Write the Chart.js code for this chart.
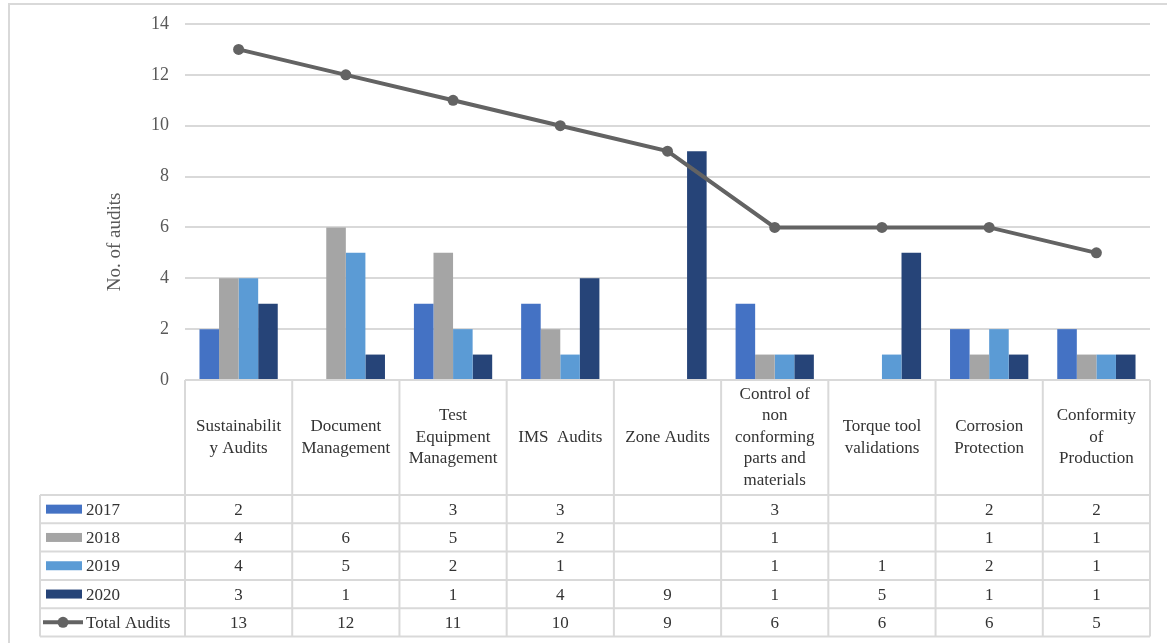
<!DOCTYPE html>
<html>
<head>
<meta charset="utf-8">
<title>Audits per area, 2017–2020</title>
<script src="https://cdn.jsdelivr.net/npm/chart.js@4/dist/chart.umd.min.js"></script>
<style>
  html, body { margin: 0; padding: 0; background: #ffffff; }
  #wrap { position: relative; width: 1167px; height: 643px; }
</style>
</head>
<body>
<div id="wrap"><canvas id="chart"></canvas></div>
<script>
// Audit areas (header lines of the data table)
const categories = [
  ['Sustainabilit', 'y Audits'],
  ['Document', 'Management'],
  ['Test', 'Equipment', 'Management'],
  ['IMS  Audits'],
  ['Zone Audits'],
  ['Control of', 'non', 'conforming', 'parts and', 'materials'],
  ['Torque tool', 'validations'],
  ['Corrosion', 'Protection'],
  ['Conformity', 'of', 'Production']
];

// Audits per year (null = no audit that year)
const audits2017 = [2, null, 3, 3, null, 3, null, 2, 2];
const audits2018 = [4, 6, 5, 2, null, 1, null, 1, 1];
const audits2019 = [4, 5, 2, 1, null, 1, 1, 2, 1];
const audits2020 = [3, 1, 1, 4, 9, 1, 5, 1, 1];
const totalAudits = [13, 12, 11, 10, 9, 6, 6, 6, 5];

const yTicks = [0, 2, 4, 6, 8, 10, 12, 14];
const yTitle = 'No. of audits';

const FONT = '"Liberation Serif", "Times New Roman", serif';
const GRID = '#d9d9d9';
const TEXT = '#333333';
const AXIS_TEXT = '#595959';

const series = [
  { label: '2017', data: audits2017, color: '#4472c4', kind: 'bar' },
  { label: '2018', data: audits2018, color: '#a5a5a5', kind: 'bar' },
  { label: '2019', data: audits2019, color: '#5b9bd5', kind: 'bar' },
  { label: '2020', data: audits2020, color: '#264478', kind: 'bar' },
  { label: 'Total Audits', data: totalAudits, color: '#636363', kind: 'line' }
];

// Frame, axis title, data table and legend keys below the plot
const dataTable = {
  id: 'dataTable',
  beforeDraw(chart) {
    const ctx = chart.ctx;
    ctx.save();
    ctx.strokeStyle = GRID;
    ctx.lineWidth = 2;
    ctx.strokeRect(9, 4, 3000, 3000);
    ctx.restore();
  },
  afterDraw(chart) {
    const ctx = chart.ctx;
    const area = chart.chartArea;
    const x = chart.scales.x;
    const n = categories.length;
    const colW = (area.right - area.left) / n;
    const headTop = area.bottom;
    const headBottom = headTop + 115;
    const rowH = 28.3;
    const rowsBottom = headBottom + rowH * series.length;
    const legendLeft = 40;

    ctx.save();

    // y axis title
    ctx.fillStyle = AXIS_TEXT;
    ctx.font = '19px ' + FONT;
    ctx.textAlign = 'center';
    ctx.textBaseline = 'middle';
    ctx.translate(115, 242);
    ctx.rotate(-Math.PI / 2);
    ctx.fillText(yTitle, 0, 0);
    ctx.setTransform(1, 0, 0, 1, 0, 0);

    ctx.strokeStyle = GRID;
    ctx.lineWidth = 2;

    // horizontal rules
    ctx.beginPath();
    ctx.moveTo(area.left, headTop); ctx.lineTo(area.right, headTop);
    for (let r = 0; r <= series.length; r++) {
      const y = headBottom + r * rowH;
      ctx.moveTo(legendLeft, y); ctx.lineTo(area.right, y);
    }
    // vertical rules
    for (let c = 0; c <= n; c++) {
      const xx = area.left + c * colW;
      ctx.moveTo(xx, headTop); ctx.lineTo(xx, rowsBottom);
    }
    ctx.moveTo(legendLeft, headBottom); ctx.lineTo(legendLeft, rowsBottom);
    ctx.stroke();

    // header labels
    ctx.fillStyle = TEXT;
    ctx.font = '17px ' + FONT;
    ctx.textAlign = 'center';
    ctx.textBaseline = 'middle';
    const lh = 21.5;
    const hc = (headTop + headBottom) / 2;
    categories.forEach((lines, i) => {
      const cx = x.getPixelForValue(i);
      const y0 = hc - (lines.length - 1) * lh / 2;
      lines.forEach((t, k) => ctx.fillText(t, cx, y0 + k * lh));
    });

    // value rows with legend keys
    series.forEach((s, r) => {
      const cy = headBottom + r * rowH + rowH / 2;
      if (s.kind === 'bar') {
        ctx.fillStyle = s.color;
        ctx.fillRect(46, cy - 4.5, 36, 9);
      } else {
        ctx.strokeStyle = s.color;
        ctx.lineWidth = 4;
        ctx.beginPath();
        ctx.moveTo(43, cy); ctx.lineTo(83, cy);
        ctx.stroke();
        ctx.fillStyle = s.color;
        ctx.beginPath();
        ctx.arc(63, cy, 5.5, 0, Math.PI * 2);
        ctx.fill();
      }
      ctx.fillStyle = TEXT;
      ctx.textAlign = 'left';
      ctx.fillText(s.label, 86, cy + 1);
      ctx.textAlign = 'center';
      s.data.forEach((v, i) => {
        if (v !== null) ctx.fillText(String(v), x.getPixelForValue(i), cy + 1);
      });
    });
    ctx.restore();
  }
};

const datasets = series.map(s => s.kind === 'bar' ? {
  type: 'bar',
  label: s.label,
  data: s.data,
  backgroundColor: s.color,
  borderWidth: 0,
  barPercentage: 1,
  categoryPercentage: 0.73,
  order: 1
} : {
  type: 'line',
  label: s.label,
  data: s.data,
  borderColor: s.color,
  backgroundColor: s.color,
  borderWidth: 4,
  pointRadius: 5.5,
  pointBorderWidth: 0,
  pointBackgroundColor: s.color,
  tension: 0,
  order: 0
});

new Chart(document.getElementById('chart'), {
  data: {
    labels: categories.map(l => l.join(' ')),
    datasets
  },
  options: {
    responsive: true,
    maintainAspectRatio: false,
    animation: false,
    layout: { padding: { top: 24, right: 17, bottom: 263, left: 95 } },
    plugins: {
      legend: { display: false },
      tooltip: { enabled: false }
    },
    scales: {
      x: {
        display: false
      },
      y: {
        min: 0,
        max: 14,
        afterBuildTicks(scale) {
          scale.ticks = yTicks.map(v => ({ value: v }));
        },
        afterFit(scale) {
          scale.width = 90;
          scale.paddingTop = 0;
          scale.paddingBottom = 0;
        },
        border: { display: false },
        grid: { color: GRID, lineWidth: 2, drawTicks: false },
        ticks: {
          padding: 16,
          color: AXIS_TEXT,
          font: { family: FONT, size: 18 }
        },
        title: { display: false }
      }
    }
  },
  plugins: [dataTable]
});
</script>
</body>
</html>
